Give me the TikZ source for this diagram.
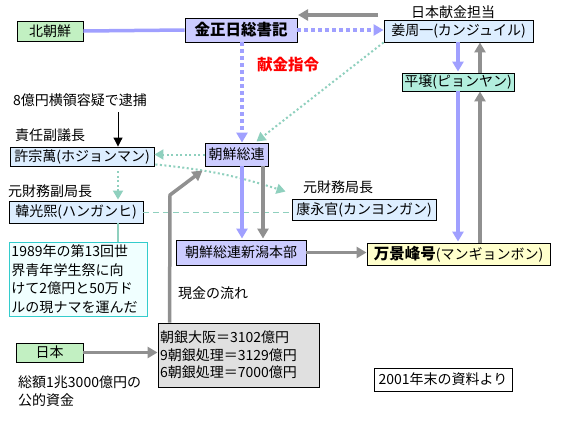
\documentclass[tikz,border=0pt]{standalone}
\usepackage{fontspec}
\setmainfont{Noto Sans CJK JP}
\usetikzlibrary{arrows.meta,calc}
\definecolor{blueln}{HTML}{A0A0FF}
\definecolor{grayln}{HTML}{909090}
\definecolor{tealln}{HTML}{8FD0BE}
\definecolor{lav}{HTML}{CCCCFF}
\definecolor{lblue}{HTML}{DDEEFF}
\definecolor{lgreen}{HTML}{C2F0C2}
\definecolor{aqua}{HTML}{B2EEDD}
\definecolor{lyellow}{HTML}{FFFFCC}
\definecolor{lcyan}{HTML}{F0FFFF}
\definecolor{cyanbd}{HTML}{33CCCC}
\definecolor{lgray}{HTML}{E0E0E0}
\tikzset{
  box/.style={draw=black, line width=0.9pt, inner sep=1pt, font=\fontsize{14}{16}\selectfont},
  lbl/.style={inner sep=0pt, anchor=west, font=\fontsize{14}{16}\selectfont},
  tri/.style={-{Triangle[length=10pt,width=11pt]}},
  smalltri/.style={-{Triangle[length=9pt,width=10pt]}},
  bluesolid/.style={draw=blueln, line width=3.5pt},
  bluedot/.style={draw=blueln, line width=3.5pt, dash pattern=on 3.5pt off 3.5pt},
  graysolid/.style={draw=grayln, line width=3.5pt},
  tealdot/.style={draw=tealln, line width=2pt, dash pattern=on 2pt off 2.5pt},
  tealdash/.style={draw=tealln, line width=0.9pt, dash pattern=on 6pt off 4pt},
  tealsolid/.style={draw=tealln, line width=1.5pt}
}
\newcommand{\bigb}{\fontsize{15.5}{16}\selectfont\bfseries}
\begin{document}
\begin{tikzpicture}[x=1pt,y=-1pt]
\useasboundingbox[fill=white] (0,0) rectangle (562,421);

% boxes
\node[box, fill=lgreen, minimum width=66pt, minimum height=20pt] (kita) at (50,31) {北朝鮮};
\node[box, fill=lav, minimum width=112pt, minimum height=24pt] (kim) at (241,30) {\bigb 金正日総書記};
\node[box, fill=lblue, minimum width=149pt, minimum height=22pt] (kang) at (458.5,31) {姜周一(カンジュイル)};
\node[box, fill=aqua, minimum width=112pt, minimum height=18pt] (py) at (458,82) {平壌(ピョンヤン)};
\node[box, fill=lblue, minimum width=144pt, minimum height=19pt] (heo) at (82,156.5) {許宗萬(ホジョンマン)};
\node[box, fill=lav, minimum width=63pt, minimum height=23pt] (soren) at (236.5,154.5) {朝鮮総連};
\node[box, fill=lblue, minimum width=134pt, minimum height=22pt] (han) at (76,212) {韓光熙(ハンガンヒ)};
\node[box, fill=lblue, minimum width=144pt, minimum height=21pt] (kou) at (364,209.5) {康永官(カンヨンガン)};
\node[box, fill=lav, minimum width=130pt, minimum height=25pt] (niigata) at (241,252.5) {朝鮮総連新潟本部};
\node[box, fill=lyellow, minimum width=183pt, minimum height=22pt] (mang) at (458.5,254) {{\bigb 万景峰号}(マンギョンボン)};
\node[box, draw=cyanbd, fill=lcyan, text width=133pt, inner xsep=2.5pt, minimum height=74pt, align=left, font=\fontsize{14}{18.5}\selectfont] (note) at (78,279) {1989年の第13回世\\界青年学生祭に向\\けて2億円と50万ド\\ルの現ナマを運んだ};
\node[box, fill=lgray, text width=157pt, inner xsep=2pt, minimum height=64pt, align=left, font=\fontsize{14}{17.5}\selectfont] (bank) at (238.5,355) {朝銀大阪＝3102億円\\9朝銀処理＝3129億円\\6朝銀処理＝7000億円};
\node[box, fill=lgreen, minimum width=67pt, minimum height=19pt] (nihon) at (49.5,352.5) {日本};
\node[box, fill=white, minimum width=138pt, minimum height=23pt] (src) at (443,379.5) {2001年末の資料より};

% labels
\node[lbl, text=red, font=\bigb] (order) at (257,65) {献金指令};
\node[lbl] (arrest) at (13,100) {8億円横領容疑で逮捕};
\node[lbl] (vice) at (15,135) {責任副議長};
\node[lbl] (hanrole) at (8,191) {元財務副局長};
\node[lbl] (kourole) at (303,187) {元財務局長};
\node[lbl] (kangrole) at (411,12) {日本献金担当};
\node[lbl] (flow) at (178,293) {現金の流れ};
\node[lbl, anchor=north west, align=left, font=\fontsize{14}{17.5}\selectfont] (total) at (18,376) {総額1兆3000億円の\\公的資金};

% helper coordinates
\coordinate (hx) at (118,0);
\coordinate (bx) at (242,0);
\coordinate (gx) at (263,0);
\coordinate (rx) at (480,0);
\coordinate (g1) at (378,15);
\coordinate (g2) at (298,15);

% connectors
\draw[bluesolid] (kita.east) -- (kim.west);
\draw[bluedot, tri] (bx |- kim.south) -- (bx |- soren.north);
\draw[bluedot, tri] (kim.east) -- (kim.east -| kang.west);
\draw[graysolid, tri] (g1) -- (g2);
\draw[tealdot, smalltri] (kang.south west) -- ($(soren.north east)+(-12,-1)$);
\draw[tealdot, smalltri] (soren.west) -- (soren.west -| heo.east);
\draw[tealdot, smalltri] ($(heo.south east)+(1,-2)$) to[bend left=6] ($(kou.north west)+(-6,-7)$);
\draw[tealdot, smalltri] ($(hx |- heo.south)+(0,5)$) -- ($(hx |- han.north)+(0,-1)$);
\draw[line width=1pt, -{Triangle[length=9pt,width=9pt]}] (118,112) -- (hx |- heo.north);
\draw[tealdash] (han.east) -- (han.east -| kou.west);
\draw[tealsolid] (hx |- han.south) -- (hx |- note.north);
\draw[bluesolid, tri] (bx |- soren.south) -- ($(bx |- niigata.north)+(0,-1)$);
\draw[graysolid, tri] (gx |- soren.south) -- ($(gx |- niigata.north)+(0,-1)$);
\draw[graysolid, tri] (niigata.east) -- (niigata.east -| mang.west);
\draw[bluesolid, tri] (py.north |- kang.south) -- ($(py.north)+(0,-1)$);
\draw[graysolid, tri] (rx |- py.north) -- (rx |- kang.south);
\draw[bluesolid, tri] (py.south) -- ($(py.south |- mang.north)+(0,-1)$);
\draw[graysolid, tri] (rx |- mang.north) -- (rx |- py.south);
\draw[graysolid, tri] ($(bank.north west)+(12,0)$) -- (170,195) -- ($(soren.south west)+(-2,4)$);
\draw[graysolid, tri] (nihon.east) -- (nihon.east -| bank.west);
\end{tikzpicture}
\end{document}
